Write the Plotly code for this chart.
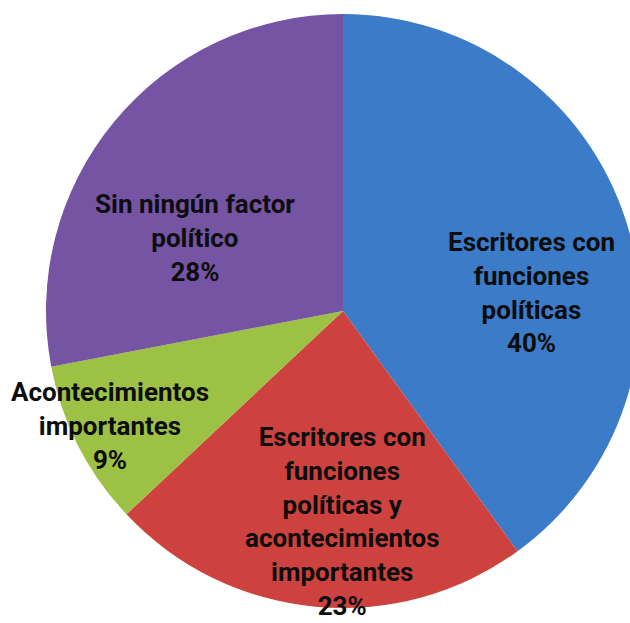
import plotly.graph_objects as go

# Data
categories = [
    "Escritores con funciones políticas",
    "Escritores con funciones políticas y acontecimientos importantes",
    "Acontecimientos importantes",
    "Sin ningún factor político",
]
display_labels = [
    "Escritores con<br>funciones<br>políticas",
    "Escritores con<br>funciones<br>políticas y<br>acontecimientos<br>importantes",
    "Acontecimientos<br>importantes",
    "Sin ningún factor<br>político",
]
percentages = [40, 23, 9, 28]
colors = ["#3b7bc8", "#cd423e", "#9cc145", "#7654a4"]

# Layout geometry (pixels)
W, H = 660, 623
cx, cy, r = 343, 311, 297
label_pos = [(531, 292), (342, 521), (110, 426), (195, 238)]

fig = go.Figure(
    go.Pie(
        labels=categories,
        values=percentages,
        sort=False,
        direction="clockwise",
        rotation=0,
        marker=dict(colors=colors, line=dict(width=0)),
        textinfo="none",
        hoverinfo="skip",
        domain=dict(x=[(cx - r) / W, (cx + r) / W], y=[(H - cy - r) / H, (H - cy + r) / H]),
    )
)

for lab, pct, (px, py) in zip(display_labels, percentages, label_pos):
    fig.add_annotation(
        x=px / W, y=1 - py / H, xref="paper", yref="paper",
        text=f"<b>{lab}<br>{pct}%</b>", showarrow=False,
        xanchor="center", yanchor="middle", align="center",
        font=dict(family="Roboto", size=26, color="#0d0d0d"),
    )

fig.update_layout(
    width=W, height=H,
    margin=dict(l=0, r=0, t=0, b=0),
    paper_bgcolor="white", plot_bgcolor="white",
    showlegend=False,
)

fig.write_html(
    "out.html",
    config={"displayModeBar": False},
    post_script="document.body.style.margin='0';document.body.style.overflow='hidden';",
)
